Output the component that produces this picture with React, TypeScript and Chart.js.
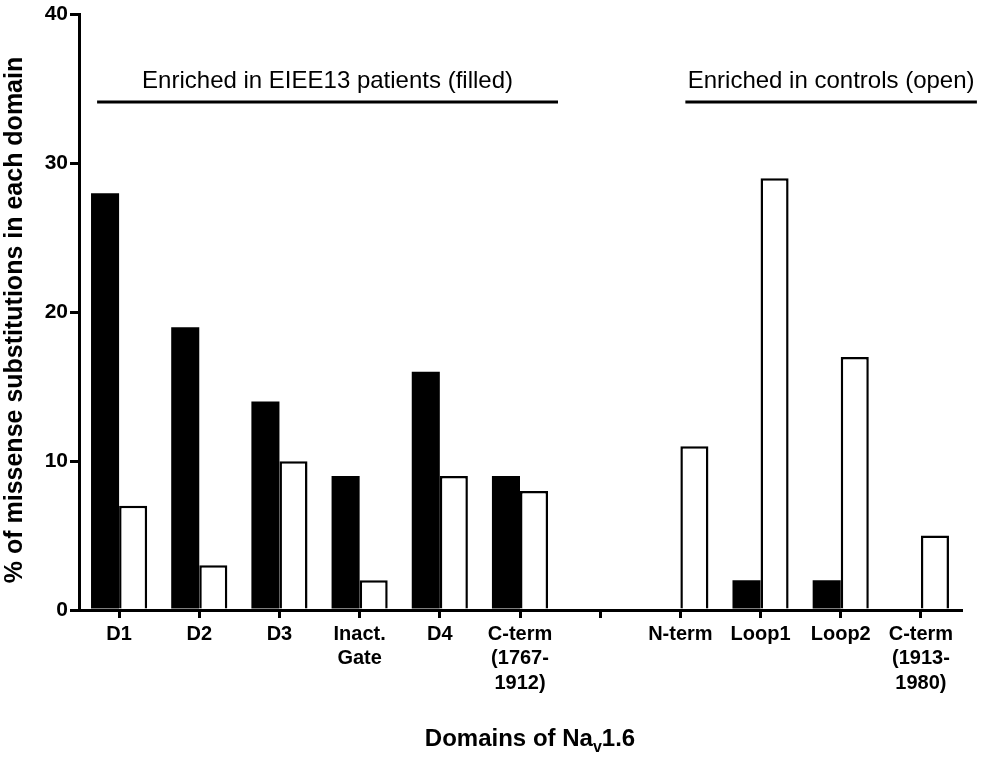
import React, { useEffect, useRef } from "react";
import { Chart, registerables } from "chart.js";

Chart.register(...registerables);

const categoryLabels: (string | string[])[] = [
  "D1",
  "D2",
  "D3",
  ["Inact.", "Gate"],
  "D4",
  ["C-term", "(1767-", "1912)"],
  "",
  "N-term",
  "Loop1",
  "Loop2",
  ["C-term", "(1913-", "1980)"],
];

const patientValues: (number | null)[] = [28, 19, 14, 9, 16, 9, null, 0, 2, 2, 0];
const controlValues: (number | null)[] = [7, 3, 10, 2, 9, 8, null, 11, 29, 17, 5];

const yTickValues = [0, 10, 20, 30, 40];

const yAxisTitle = "% of missense substitutions in each domain";
const xAxisTitleMain = "Domains of Na";
const xAxisTitleSub = "v";
const xAxisTitleTail = "1.6";

const groupLabels = [
  { text: "Enriched in EIEE13 patients (filled)", from: 0, to: 5 },
  { text: "Enriched in controls (open)", from: 7, to: 10 },
];

const FONT = '"Liberation Sans", Arial, Helvetica, sans-serif';

const annotationPlugin = {
  id: "customAnnotations",
  afterDraw(chart: any) {
    const ctx = chart.ctx as CanvasRenderingContext2D;
    const x = chart.scales.x;
    const area = chart.chartArea;
    ctx.save();
    ctx.fillStyle = "#000";
    ctx.strokeStyle = "#000";

    const offsets = [
      [-22, 38],
      [5, 56],
    ];
    groupLabels.forEach((g, i) => {
      const x1 = x.getPixelForValue(g.from) + offsets[i][0];
      const x2 = x.getPixelForValue(g.to) + offsets[i][1];
      ctx.lineWidth = 3;
      ctx.beginPath();
      ctx.moveTo(x1, 102);
      ctx.lineTo(x2, 102);
      ctx.stroke();
      ctx.font = `24px ${FONT}`;
      ctx.textAlign = "center";
      ctx.textBaseline = "alphabetic";
      ctx.fillText(g.text, (x1 + x2) / 2, 88);
    });

    ctx.save();
    ctx.translate(15, 320);
    ctx.rotate(-Math.PI / 2);
    ctx.font = `bold 25px ${FONT}`;
    ctx.textAlign = "center";
    ctx.textBaseline = "middle";
    ctx.fillText(yAxisTitle, 0, 0);
    ctx.restore();

    ctx.textAlign = "left";
    ctx.textBaseline = "alphabetic";
    const mainFont = `bold 24px ${FONT}`;
    const subFont = `bold 16px ${FONT}`;
    ctx.font = mainFont;
    const w1 = ctx.measureText(xAxisTitleMain).width;
    const w3 = ctx.measureText(xAxisTitleTail).width;
    ctx.font = subFont;
    const w2 = ctx.measureText(xAxisTitleSub).width;
    const total = w1 + w2 + w3;
    const cx = (area.left + area.right) / 2 + 10;
    let sx = cx - total / 2;
    const baseY = 746;
    ctx.font = mainFont;
    ctx.fillText(xAxisTitleMain, sx, baseY);
    sx += w1;
    ctx.font = subFont;
    ctx.fillText(xAxisTitleSub, sx, baseY + 6);
    sx += w2;
    ctx.font = mainFont;
    ctx.fillText(xAxisTitleTail, sx, baseY);
    ctx.restore();
  },
};

export default function App() {
  const canvasRef = useRef<HTMLCanvasElement | null>(null);

  useEffect(() => {
    if (!canvasRef.current) return;
    const chart = new Chart(canvasRef.current, {
      type: "bar",
      data: {
        labels: categoryLabels,
        datasets: [
          {
            label: "Patients",
            data: patientValues,
            backgroundColor: "#000",
            borderColor: "#000",
            borderWidth: 0,
            categoryPercentage: 0.7,
            barPercentage: 1.0,
          },
          {
            label: "Controls",
            data: controlValues,
            backgroundColor: "#fff",
            borderColor: "#000",
            borderWidth: 2.5,
            categoryPercentage: 0.7,
            barPercentage: 1.0,
          },
        ],
      },
      options: {
        animation: false,
        responsive: true,
        maintainAspectRatio: false,
        devicePixelRatio: 1,
        layout: { padding: { top: 12, right: 31, left: 0, bottom: 0 } },
        plugins: {
          legend: { display: false },
          tooltip: { enabled: false },
          title: { display: false },
        },
        scales: {
          x: {
            type: "category",
            offset: true,
            grid: {
              display: true,
              offset: false,
              drawOnChartArea: false,
              drawTicks: true,
              tickLength: 8,
              lineWidth: 3,
              color: "#000",
            },
            border: { display: true, color: "#000", width: 3 },
            ticks: {
              color: "#000",
              font: { family: FONT, size: 20, weight: "bold", lineHeight: 1.22 },
              maxRotation: 0,
              minRotation: 0,
              autoSkip: false,
              padding: 4,
            },
            afterFit(scale: any) {
              scale.height = 149;
            },
          },
          y: {
            min: 0,
            max: 40,
            afterBuildTicks(scale: any) {
              scale.ticks = yTickValues.map((v) => ({ value: v }));
            },
            grid: {
              display: true,
              drawOnChartArea: false,
              drawTicks: true,
              tickLength: 9,
              lineWidth: 3,
              color: "#000",
            },
            border: { display: true, color: "#000", width: 3 },
            ticks: {
              color: "#000",
              font: { family: FONT, size: 21, weight: "bold" },
              padding: 2,
            },
            afterFit(scale: any) {
              scale.width = 79;
            },
          },
        },
      },
      plugins: [annotationPlugin],
    } as any);
    return () => chart.destroy();
  }, []);

  return (
    <div
      style={{
        position: "fixed",
        left: 0,
        top: 0,
        width: 992,
        height: 759,
        background: "#fff",
      }}
    >
      <canvas ref={canvasRef} />
    </div>
  );
}
